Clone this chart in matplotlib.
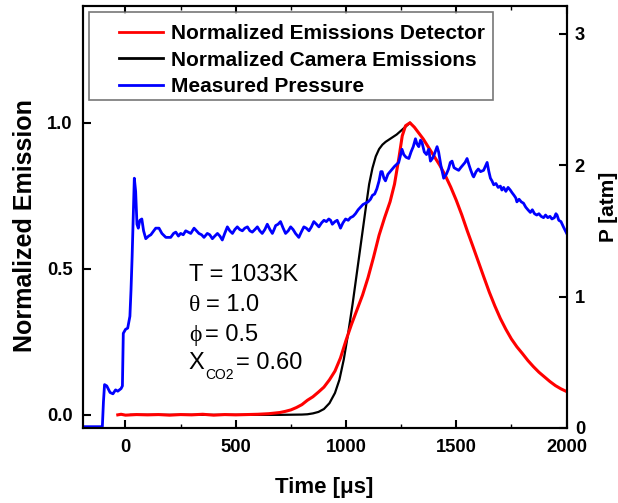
import matplotlib
matplotlib.use("Agg")
import matplotlib.pyplot as plt
from matplotlib.ticker import MultipleLocator
from matplotlib.legend_handler import HandlerLine2D
from matplotlib.transforms import ScaledTranslation

plt.rcParams['font.family'] = ['Liberation Sans', 'DejaVu Sans']

# ---------------- data ----------------
det_t = [-35, -20, 0, 50, 100, 150, 200, 250, 300, 350, 400, 450, 500, 550, 600, 650,
         700, 725, 750, 775, 800, 825, 850, 875, 900, 925, 950, 975, 1000, 1025, 1050,
         1075, 1100, 1125, 1150, 1175, 1200, 1220, 1240, 1255, 1270, 1290, 1310, 1330,
         1350, 1375, 1400, 1425, 1450, 1475, 1500, 1525, 1550, 1575, 1600, 1625, 1650,
         1675, 1700, 1725, 1750, 1775, 1800, 1825, 1850, 1875, 1900, 1925, 1950, 1975,
         2000]
det_v = [0.0, 0.002, -0.001, 0.001, 0.0, 0.001, -0.001, 0.001, 0.0, 0.002, -0.001, 0.001,
         0.0, 0.001, 0.002, 0.004, 0.008, 0.012, 0.017, 0.025, 0.035, 0.05, 0.062, 0.078,
         0.095, 0.12, 0.15, 0.195, 0.255, 0.31, 0.36, 0.41, 0.47, 0.54, 0.615, 0.675,
         0.73, 0.79, 0.88, 0.955, 0.99, 1.0, 0.985, 0.965, 0.945, 0.915, 0.885, 0.855,
         0.82, 0.78, 0.735, 0.685, 0.63, 0.578, 0.525, 0.472, 0.42, 0.373, 0.33, 0.293,
         0.26, 0.233, 0.21, 0.186, 0.165, 0.146, 0.13, 0.114, 0.10, 0.089, 0.08]

cam_t = [24, 100, 200, 300, 400, 500, 600, 700, 800, 825, 850, 875, 900, 925, 950, 970,
         990, 1010, 1030, 1050, 1070, 1090, 1105, 1120, 1135, 1150, 1165, 1180, 1200,
         1230, 1260, 1290]
cam_v = [0.0, 0.0, 0.0, 0.0, 0.0, 0.0, 0.0, 0.0, 0.001, 0.002, 0.005, 0.01, 0.02, 0.04,
         0.075, 0.12, 0.19, 0.28, 0.38, 0.49, 0.60, 0.71, 0.79, 0.845, 0.885, 0.91,
         0.925, 0.935, 0.945, 0.96, 0.98, 1.0]

p_t = [-195, -150, -105, -100, -95, -85, -70, -57, -45, -35, -20, -14, -10, 0, 10, 20,
       25, 30, 35, 40, 46, 52, 58, 65, 74, 82, 92, 105, 115, 137, 152, 165, 183, 205,
       218, 228, 240, 250, 262, 273, 285, 296, 311, 322, 333, 345, 356, 371, 382, 394,
       405, 417, 428, 439, 450, 462, 473, 485, 496, 507, 518, 530, 541, 553, 564, 575,
       587, 598, 609, 620, 632, 643, 655, 666, 674, 681, 692, 703, 715, 726, 738, 749,
       760, 771, 786, 797, 809, 820, 832, 843, 854, 866, 877, 889, 900, 911, 922, 930,
       938, 950, 960, 968, 975, 986, 998, 1010, 1020, 1032, 1043, 1055, 1066, 1077,
       1088, 1100, 1111, 1120, 1130, 1140, 1150, 1158, 1164, 1172, 1179, 1190, 1205,
       1220, 1239, 1248, 1254, 1262, 1272, 1285, 1295, 1305, 1315, 1322, 1330, 1338,
       1345, 1355, 1365, 1375, 1383, 1392, 1400, 1413, 1420, 1430, 1443, 1455, 1465,
       1473, 1481, 1490, 1500, 1511, 1520, 1530, 1540, 1549, 1558, 1566, 1575, 1579,
       1590, 1600, 1610, 1624, 1632, 1640, 1648, 1655, 1662, 1670, 1680, 1690, 1700,
       1707, 1715, 1725, 1735, 1745, 1753, 1762, 1770, 1775, 1785, 1795, 1805, 1815,
       1825, 1836, 1845, 1855, 1865, 1875, 1885, 1896, 1905, 1915, 1925, 1934, 1945,
       1952, 1957, 1965, 1975, 1986, 1995, 2004]
p_v = [0.01, 0.01, 0.01, 0.20, 0.33, 0.32, 0.27, 0.26, 0.29, 0.28, 0.30, 0.32, 0.72,
       0.75, 0.76, 0.85, 1.05, 1.30, 1.60, 1.90, 1.80, 1.55, 1.52, 1.58, 1.59, 1.50,
       1.44, 1.46, 1.47, 1.52, 1.52, 1.48, 1.45, 1.45, 1.48, 1.49, 1.46, 1.48, 1.47,
       1.50, 1.49, 1.48, 1.52, 1.50, 1.48, 1.47, 1.45, 1.48, 1.47, 1.44, 1.46, 1.48,
       1.46, 1.43, 1.48, 1.53, 1.50, 1.48, 1.51, 1.53, 1.51, 1.50, 1.52, 1.53, 1.50,
       1.49, 1.51, 1.53, 1.50, 1.48, 1.51, 1.55, 1.51, 1.48, 1.51, 1.54, 1.55, 1.57,
       1.52, 1.48, 1.50, 1.53, 1.51, 1.48, 1.45, 1.49, 1.53, 1.52, 1.50, 1.53, 1.57,
       1.55, 1.53, 1.56, 1.58, 1.57, 1.59, 1.58, 1.55, 1.57, 1.58, 1.55, 1.52, 1.56,
       1.59, 1.58, 1.60, 1.61, 1.63, 1.66, 1.68, 1.70, 1.71, 1.72, 1.74, 1.77, 1.78,
       1.82, 1.88, 1.95, 1.95, 1.90, 1.88, 1.93, 1.96, 1.99, 2.02, 2.08, 2.12, 2.08,
       2.06, 2.05, 2.10, 2.14, 2.20, 2.16, 2.14, 2.19, 2.17, 2.10, 2.08, 2.12, 2.03,
       2.05, 2.08, 2.14, 2.10, 2.00, 1.90, 1.93, 1.97, 2.02, 2.03, 1.98, 1.97, 1.96,
       1.98, 2.00, 2.02, 2.05, 2.00, 1.96, 1.92, 1.91, 1.95, 1.97, 1.95, 1.96, 1.99,
       2.02, 1.95, 1.90, 1.88, 1.85, 1.86, 1.83, 1.84, 1.81, 1.83, 1.80, 1.83, 1.81,
       1.79, 1.77, 1.75, 1.72, 1.74, 1.72, 1.71, 1.68, 1.66, 1.64, 1.66, 1.63, 1.62,
       1.63, 1.61, 1.60, 1.62, 1.60, 1.61, 1.59, 1.60, 1.63, 1.62, 1.58, 1.57, 1.53,
       1.50, 1.47]

x_ticks = [0, 500, 1000, 1500, 2000]
y_ticks = [0.0, 0.5, 1.0]
p_ticks = [0, 1, 2, 3]

labels = ['Normalized Emissions Detector', 'Normalized Camera Emissions', 'Measured Pressure']

# ---------------- figure ----------------
W, H = 618, 503
fig = plt.figure(figsize=(W / 100, H / 100), dpi=100)
ax = fig.add_axes([82.5 / W, 1 - 428 / H, (566.5 - 82.5) / W, (428 - 6) / H])
ax2 = ax.twinx()

l_det, = ax.plot(det_t, det_v, color='#ff0000', lw=2.2, zorder=3)
l_cam, = ax.plot(cam_t, cam_v, color='black', lw=1.6, zorder=2)
l_p, = ax2.plot(p_t, p_v, color='#0000ff', lw=2.0)

ax.set_xlim(-195, 2000)
ax.set_ylim(-0.045, 1.40)
ax2.set_ylim(0, 3.21)

ax.set_xticks(x_ticks)
ax.set_yticks(y_ticks)
ax2.set_yticks(p_ticks)
ax.xaxis.set_minor_locator(MultipleLocator(250))
ax.set_yticklabels(['%.1f' % v for v in y_ticks])

for a in (ax, ax2):
    for s in a.spines.values():
        s.set_linewidth(1.5)

ax.tick_params(axis='x', which='major', direction='in', length=6, width=1.5,
               labelsize=13.2, pad=8, top=True)
ax.tick_params(axis='x', which='minor', direction='in', length=3, width=1.0, top=True)
ax.tick_params(axis='y', which='major', direction='in', length=6, width=1.5,
               labelsize=13.2, pad=7, right=False)
ax2.tick_params(axis='y', direction='in', length=6, width=1.5, labelsize=13.2, pad=6)
for lab in ax.get_xticklabels() + ax.get_yticklabels() + ax2.get_yticklabels():
    lab.set_fontweight('bold')

ax.set_xlabel('Time [μs]', fontsize=16, fontweight='bold', va='center')
ax.xaxis.set_label_coords(0.5, (428 - 487) / 422)
ax.set_ylabel('Normalized Emission', fontsize=18, fontweight='bold', va='center')
ax.yaxis.set_label_coords((25 - 82.5) / 484, (428 - 226) / 422)
ax2.set_ylabel('P [atm]', fontsize=15, fontweight='bold', va='center', rotation=90)
ax2.yaxis.set_label_coords((608 - 82.5) / 484, (428 - 207) / 422)

# annotation text
fs = 17
greek = ['Liberation Serif', 'DejaVu Serif']
ax.text(287, 0.457, 'T = 1033K', fontsize=fs, va='baseline')
ax.text(287, 0.354, 'θ', fontsize=fs, va='baseline', family=greek)
ax.annotate('= 1.0', xy=(287, 0.354), xytext=(12.2, 0), textcoords='offset points',
            fontsize=fs, va='baseline')
ax.text(287, 0.252, 'ϕ', fontsize=fs, va='baseline', family=greek)
ax.annotate('= 0.5', xy=(287, 0.252), xytext=(11.5, 0), textcoords='offset points',
            fontsize=fs, va='baseline')
ax.text(287, 0.156, 'X', fontsize=fs, va='baseline')
ax.annotate('CO2', xy=(287, 0.156), xytext=(11.5, -7.2), textcoords='offset points',
            fontsize=10, va='baseline')
ax.annotate('= 0.60', xy=(287, 0.156), xytext=(33.8, 0), textcoords='offset points',
            fontsize=fs, va='baseline')

leg = ax2.legend([l_det, l_cam, l_p], labels, loc='upper left',
                 bbox_to_anchor=((89 - 82.5) / 484, 1 - 6 / 422),
                 prop={'size': 15, 'weight': 'bold'}, frameon=True, fancybox=False,
                 borderaxespad=0.0, borderpad=0.4, labelspacing=0.35,
                 handlelength=3.13, handletextpad=0.4,
                 handler_map={l_det: HandlerLine2D(xpad=1.03),
                              l_cam: HandlerLine2D(xpad=1.03),
                              l_p: HandlerLine2D(xpad=1.03)})
leg.get_frame().set_edgecolor('#555555')
leg.get_frame().set_linewidth(1.2)
shift = ScaledTranslation(0, -4 / 100, fig.dpi_scale_trans)
for ln in leg.get_lines():
    ln.set_linewidth(2.0)
    ln.set_transform(ln.get_transform() + shift)
for t in leg.get_texts():
    t.set_transform(t.get_transform() + shift)

fig.savefig('out.png', dpi=100)
